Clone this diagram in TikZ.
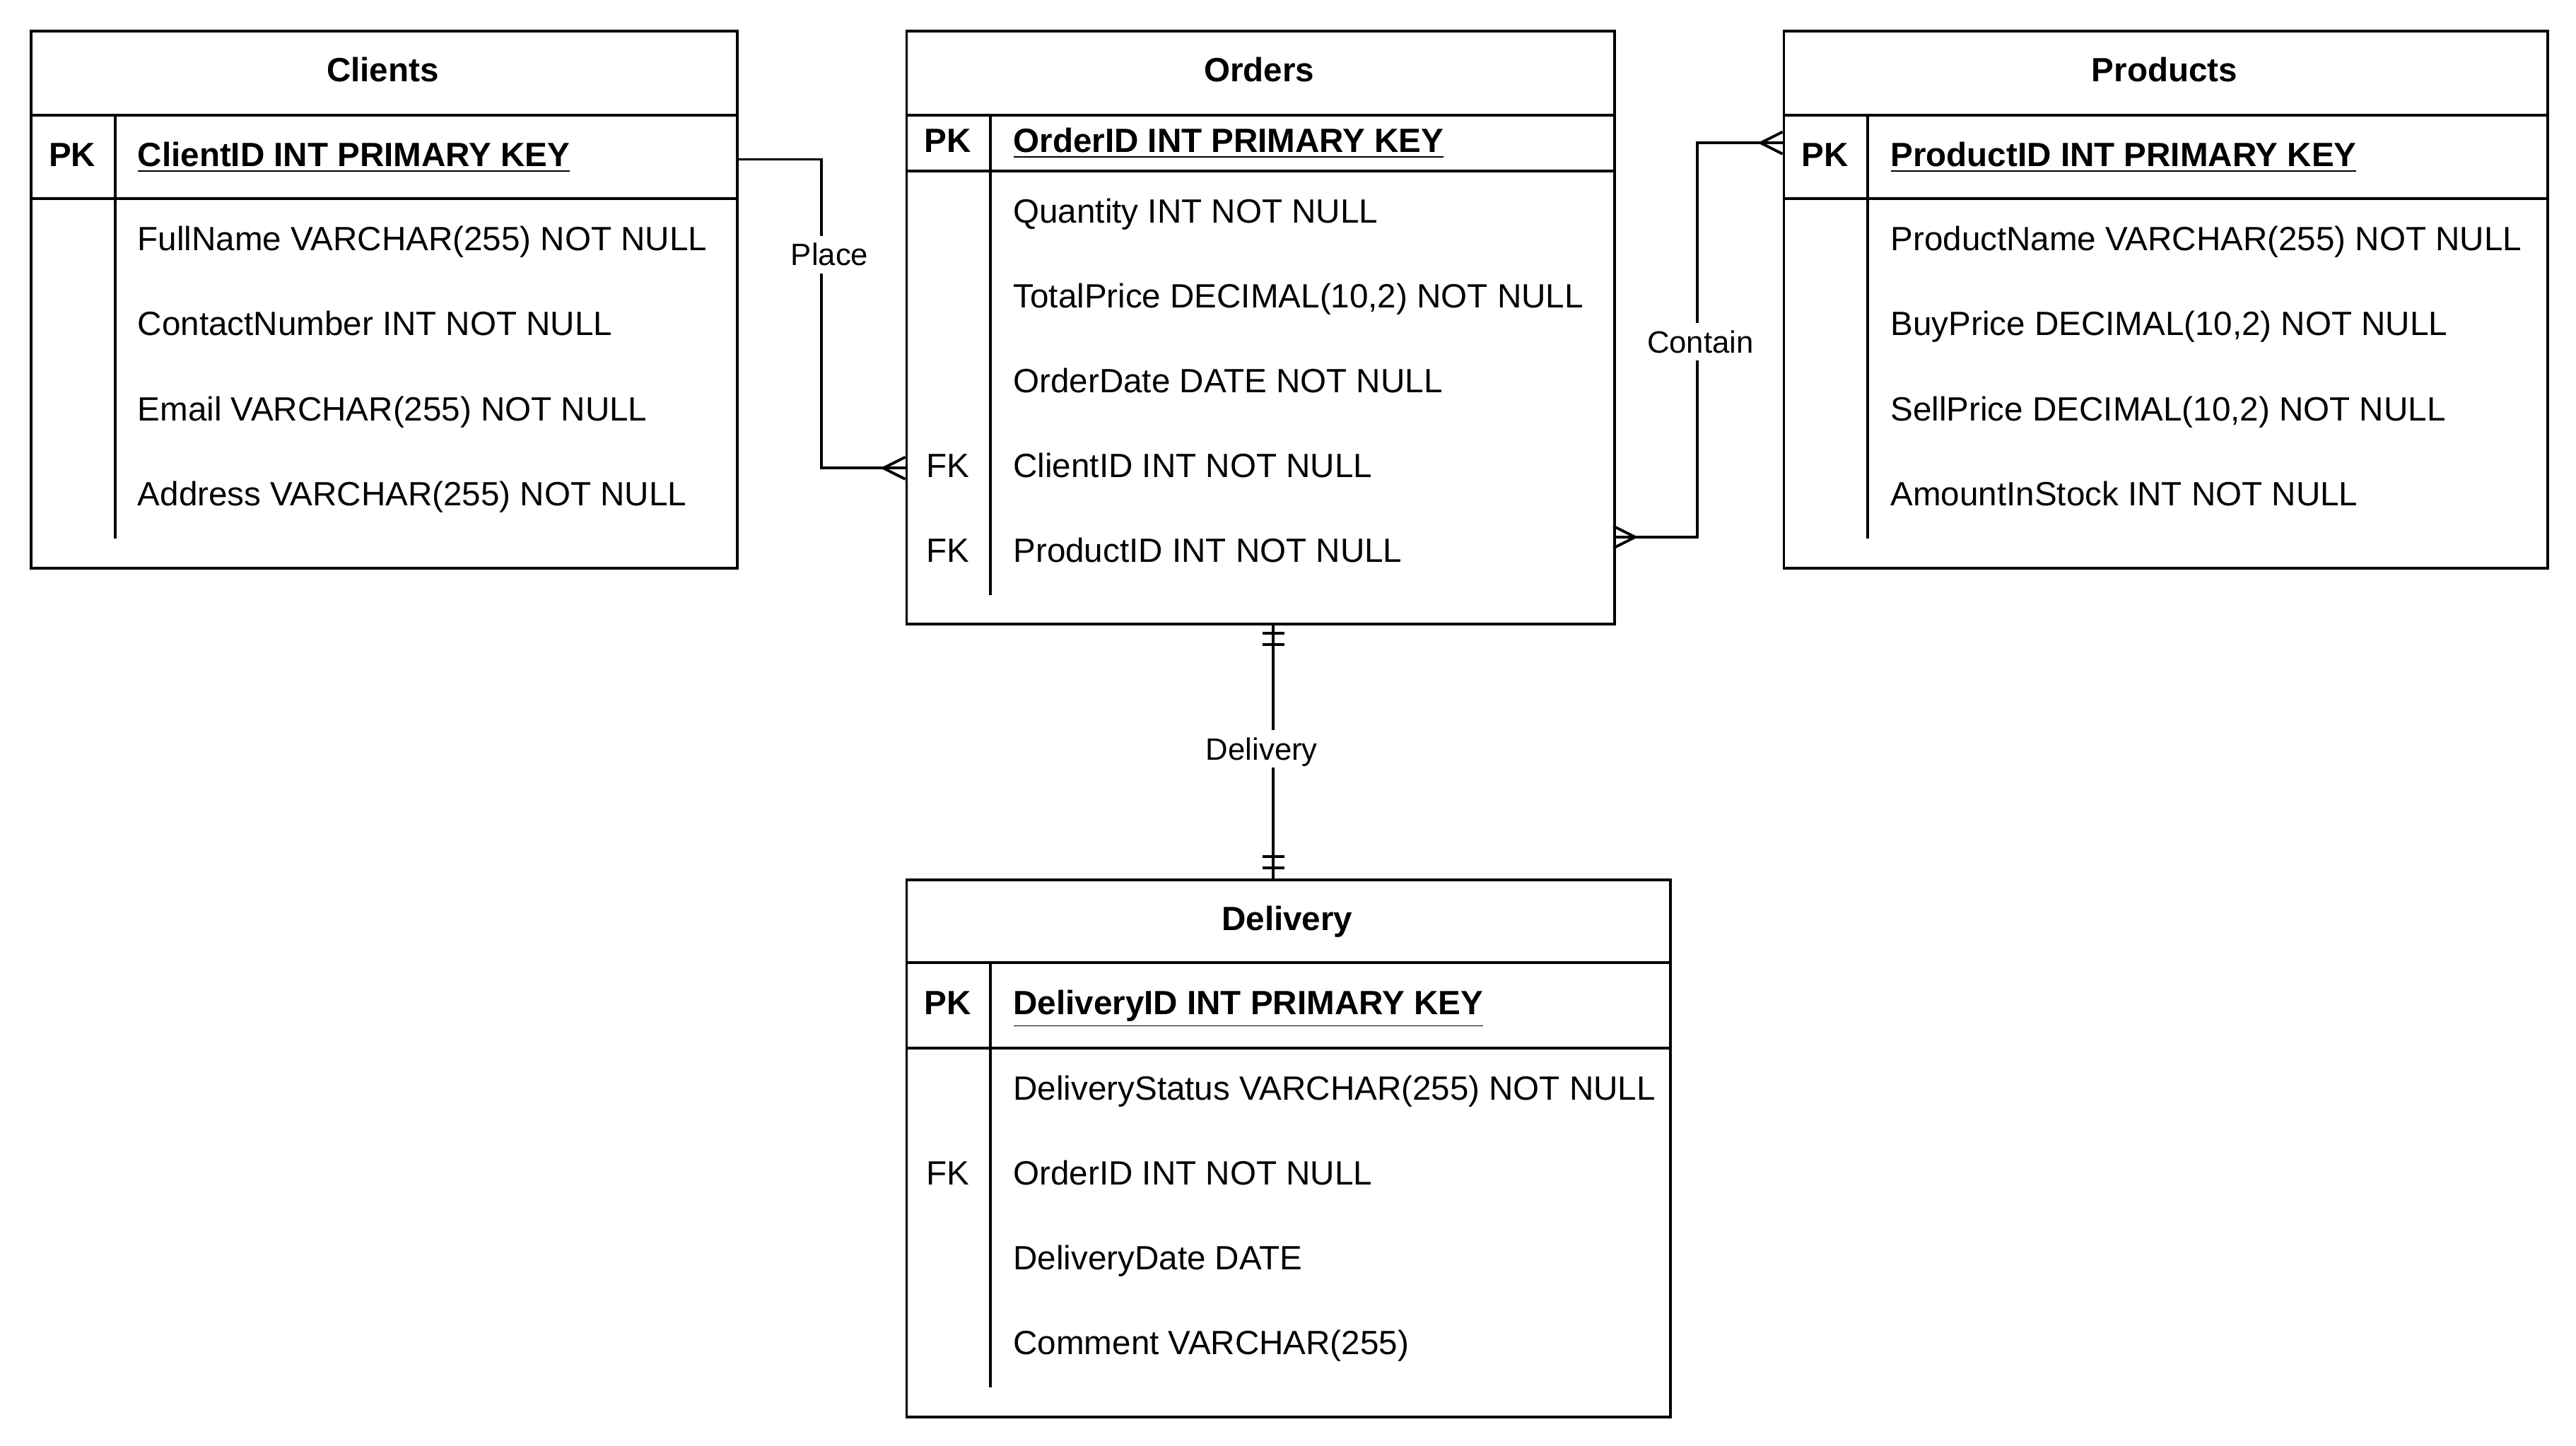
\documentclass[tikz,border=0pt]{standalone}
\usepackage{fontspec}
\setmainfont{Liberation Sans}

\begin{document}
\begin{tikzpicture}[x=0.02cm, y=-0.02cm, line width=0.95pt,
    tbl/.style={draw, anchor=north west, inner sep=0pt},
    txt/.style={font=\fontsize{11.65}{14}\selectfont, text height=8.35pt, text depth=1.7pt, inner sep=0pt},
    bold/.style={txt, font=\fontsize{11.65}{14}\selectfont\bfseries},
    field/.style={txt, anchor=west},
    rel/.style={font=\fontsize{10.7}{13}\selectfont, text height=7.7pt, text depth=0pt, fill=white, inner xsep=1pt, inner ysep=2.6pt}]
    \useasboundingbox (0,0) rectangle (1568,880);

    % Clients
    \node[tbl, minimum width=8.6cm, minimum height=6.54cm] (clients) at (18,18) {};
    \draw (18,70) -- (448,70);
    \draw (18,121) -- (448,121);
    \draw (70,70) -- (70,327.8);
    \node[bold] (ctitle) at (233,44) {Clients};
    \node[bold] (cpk) at (44,95.5) {PK};
    \node[bold, anchor=west] (cid) at (83,95.5) {\underline{ClientID INT PRIMARY KEY}};
    \node[field] (cname) at (83,146.8) {FullName VARCHAR(255) NOT NULL};
    \node[field] (cphone) at (83,198.5) {ContactNumber INT NOT NULL};
    \node[field] (cmail) at (83,250.2) {Email VARCHAR(255) NOT NULL};
    \node[field] (caddr) at (83,301.9) {Address VARCHAR(255) NOT NULL};

    % Orders
    \node[tbl, minimum width=8.62cm, minimum height=7.22cm] (orders) at (551,18) {};
    \draw (551,70) -- (982,70);
    \draw (551,104) -- (982,104);
    \draw (603,70) -- (603,362.5);
    \node[bold] (otitle) at (766.5,44) {Orders};
    \node[bold] (opk) at (577,87) {PK};
    \node[bold, anchor=west] (oid) at (616,87) {\underline{OrderID INT PRIMARY KEY}};
    \node[field] (oqty) at (616,129.8) {Quantity INT NOT NULL};
    \node[field] (oprice) at (616,181.5) {TotalPrice DECIMAL(10,2) NOT NULL};
    \node[field] (odate) at (616,233.2) {OrderDate DATE NOT NULL};
    \node[txt] (ofk1) at (577,284.9) {FK};
    \node[field] (oclient) at (616,284.9) {ClientID INT NOT NULL};
    \node[txt] (ofk2) at (577,336.6) {FK};
    \node[field] (oproduct) at (616,336.6) {ProductID INT NOT NULL};

    % Products
    \node[tbl, minimum width=9.3cm, minimum height=6.54cm] (products) at (1085,18) {};
    \draw (1085,70) -- (1550,70);
    \draw (1085,121) -- (1550,121);
    \draw (1137,70) -- (1137,327.8);
    \node[bold] (ptitle) at (1317.5,44) {Products};
    \node[bold] (ppk) at (1111,95.5) {PK};
    \node[bold, anchor=west] (pid) at (1150,95.5) {\underline{ProductID INT PRIMARY KEY}};
    \node[field] (pname) at (1150,146.8) {ProductName VARCHAR(255) NOT NULL};
    \node[field] (pbuy) at (1150,198.5) {BuyPrice DECIMAL(10,2) NOT NULL};
    \node[field] (psell) at (1150,250.2) {SellPrice DECIMAL(10,2) NOT NULL};
    \node[field] (pstock) at (1150,301.9) {AmountInStock INT NOT NULL};

    % Delivery
    \node[tbl, minimum width=9.3cm, minimum height=6.54cm] (delivery) at (551,535) {};
    \draw (551,586) -- (1016,586);
    \draw (551,638) -- (1016,638);
    \draw (603,586) -- (603,844.5);
    \node[bold] (dtitle) at (783.5,560.5) {Delivery};
    \node[bold] (dpk) at (577,612) {PK};
    \node[bold, anchor=west] (did) at (616,612) {\underline{DeliveryID INT PRIMARY KEY}};
    \node[field] (dstatus) at (616,663.8) {DeliveryStatus VARCHAR(255) NOT NULL};
    \node[txt] (dfk) at (577,715.5) {FK};
    \node[field] (dorder) at (616,715.5) {OrderID INT NOT NULL};
    \node[field] (ddate) at (616,767.2) {DeliveryDate DATE};
    \node[field] (dnote) at (616,818.9) {Comment VARCHAR(255)};

    % relations
    \coordinate (placeS) at (448,97);
    \coordinate (placeE) at (551,285);
    \coordinate (contS) at (982,327);
    \coordinate (contE) at (1085,87);
    \coordinate (delS) at (775,379);
    \coordinate (delE) at (775,535);

    \draw (placeS) -- ++(52,0) |- (placeE);
    \draw (placeE) ++(-13.3,0) -- ++(13.3,-6.7) ++(-13.3,6.7) -- ++(13.3,6.7);
    \node[rel] (place) at (505,155) {Place};

    \draw (contS) -- ++(51,0) |- (contE);
    \draw (contE) ++(-13.3,0) -- ++(13.3,-6.7) ++(-13.3,6.7) -- ++(13.3,6.7);
    \draw (contS) ++(13.3,0) -- ++(-13.3,-6.7) ++(13.3,6.7) -- ++(-13.3,6.7);
    \node[rel] (contain) at (1035,208) {Contain};

    \draw (delS) -- (delE);
    \draw (delS) ++(-6.7,6.7) -- ++(13.4,0) ++(-13.4,6.7) -- ++(13.4,0);
    \draw (delE) ++(-6.7,-6.7) -- ++(13.4,0) ++(-13.4,-6.7) -- ++(13.4,0);
    \node[rel] (deliv) at (768,456) {Delivery};
\end{tikzpicture}
\end{document}
